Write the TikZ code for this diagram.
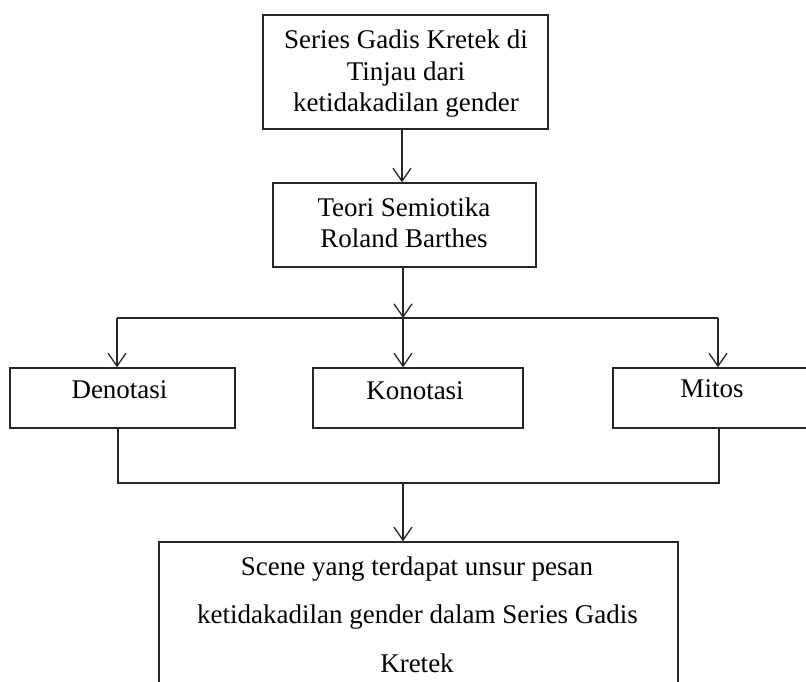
\documentclass[tikz,border=0pt]{standalone}
\usepackage{fontspec}
\setmainfont{Liberation Serif}
\usetikzlibrary{arrows.meta}
\begin{document}
\begin{tikzpicture}[x=1pt,y=-1pt,
  line width=1.4pt,
  boxnode/.style={draw=black!85, rectangle, inner sep=0pt},
  txt/.style={anchor=base, inner sep=0pt, font=\fontsize{27}{31}\selectfont, text=black},
  conn/.style={draw=black!85},
  arr/.style={conn, -{Straight Barb[length=13pt,width=18pt,line width=1.3pt]}}
]
\useasboundingbox (0,0) rectangle (806,682);
\clip (0,0) rectangle (806,682);
% boxes
\node[boxnode, minimum width=285pt, minimum height=114pt] (top) at (405.3,72) {};
\node[boxnode, minimum width=263pt, minimum height=84pt] (teori) at (404.5,225) {};
\node[boxnode, minimum width=225pt, minimum height=60pt] (deno) at (122.5,398) {};
\node[boxnode, minimum width=210pt, minimum height=60pt] (kono) at (418,398) {};
\node[boxnode, minimum width=210pt, minimum height=60pt] (mitos) at (718,398) {};
\node[boxnode, minimum width=519pt, minimum height=170pt] (scene) at (418.5,627) {};
% texts
\node[txt] (t1) at (406,49) {Series Gadis Kretek di};
\node[txt] (t2) at (406,80.5) {Tinjau dari};
\node[txt] (t3) at (406,112) {ketidakadilan gender};
\node[txt] (r1) at (404,216) {Teori Semiotika};
\node[txt] (r2) at (404,247) {Roland Barthes};
\node[txt] (d1) at (119.5,398) {Denotasi};
\node[txt] (k1) at (415,399) {Konotasi};
\node[txt] (m1) at (712,397) {Mitos};
\node[txt] (s1) at (417,575) {Scene yang terdapat unsur pesan};
\node[txt] (s2) at (417.5,623) {ketidakadilan gender dalam Series Gadis};
\node[txt] (s3) at (417,672) {Kretek};
% junctions
\coordinate (j1) at (403,318);
\coordinate (jl) at (117,318);
\coordinate (jr) at (718,318);
\coordinate (b1) at (118,483);
\coordinate (b2) at (719,483);
\coordinate (bm) at (403,483);
% connectors
\draw[arr] (top.south -| 402,0) -- (teori.north -| 402,0);
\draw[arr] (teori.south -| j1) -- (j1);
\draw[conn] (jl) -- (jr);
\draw[arr] (jl) -- (deno.north -| jl);
\draw[arr] (j1) -- (kono.north -| j1);
\draw[arr] (jr) -- (mitos.north -| jr);
\draw[conn] (deno.south -| b1) -- (b1) -- (b2) -- (mitos.south -| b2);
\draw[arr] (bm) -- (scene.north -| bm);
\end{tikzpicture}
\end{document}
